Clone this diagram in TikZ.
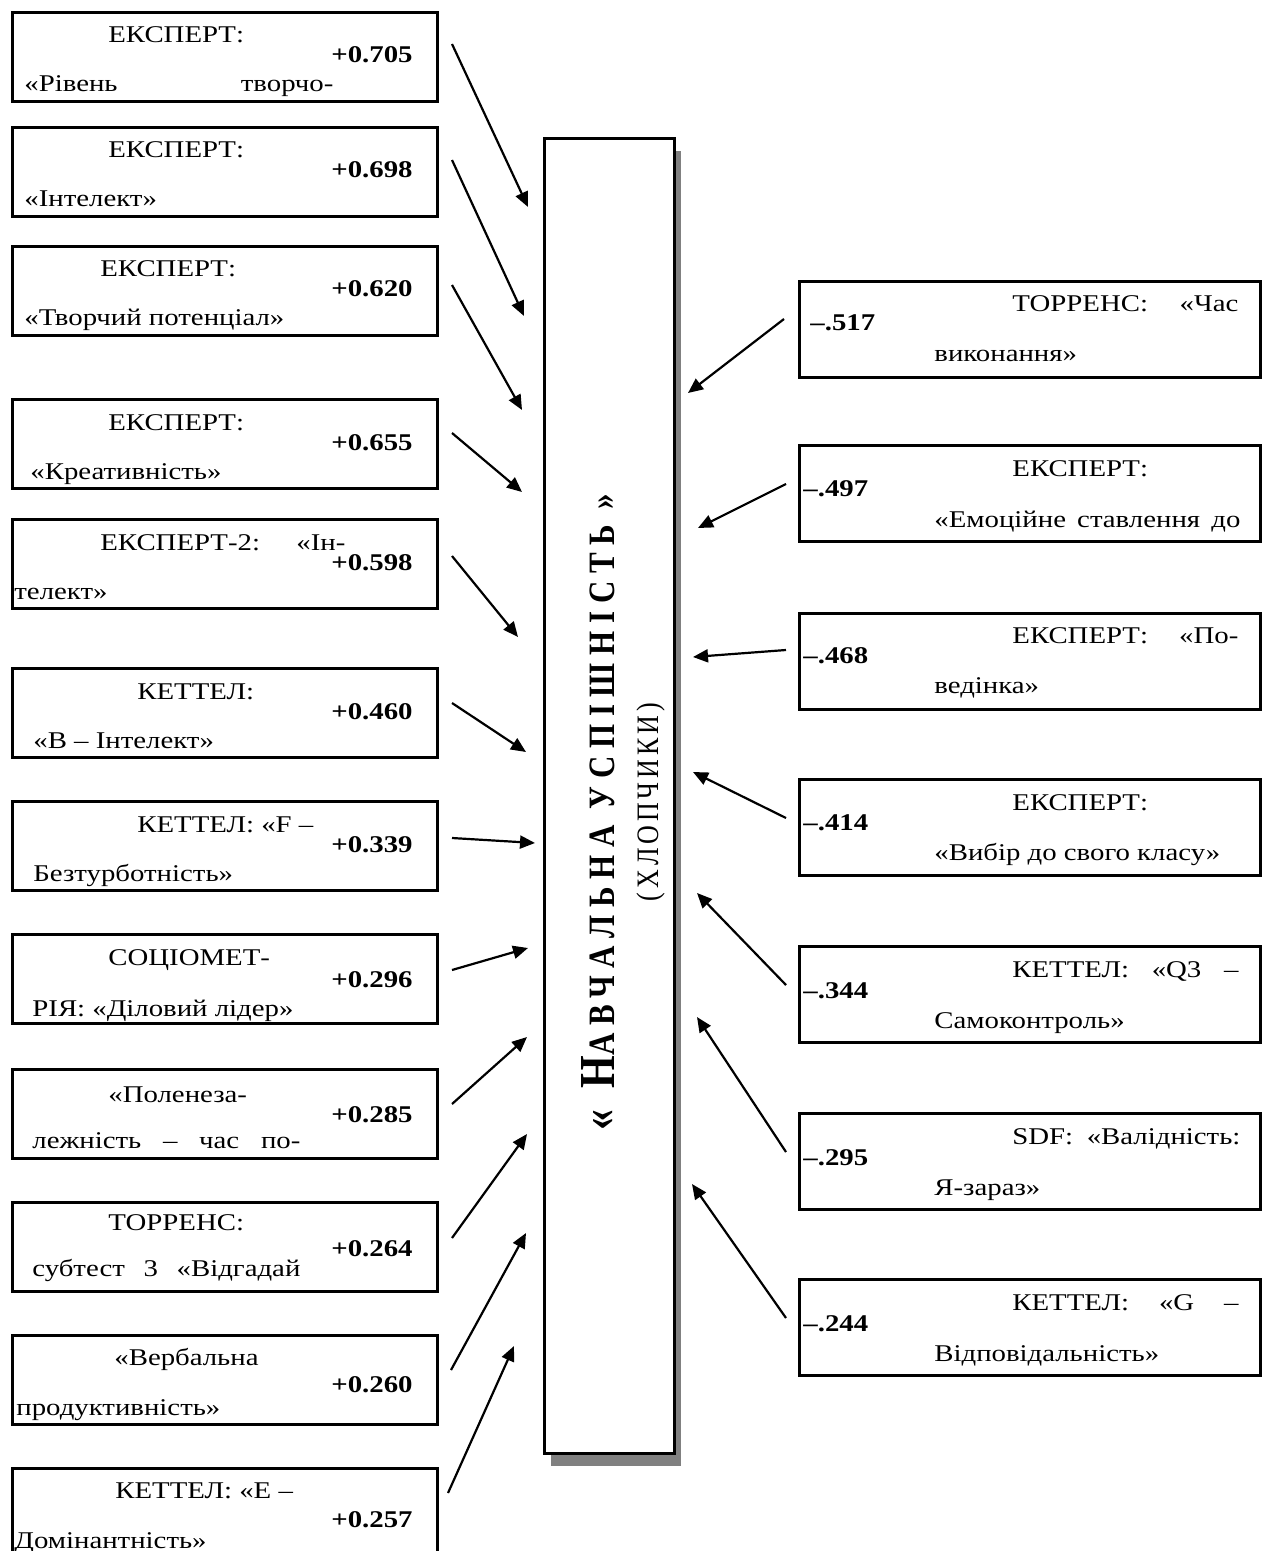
\documentclass[tikz,border=0pt]{standalone}
\usepackage{fontspec}
\setmainfont{Liberation Serif}[FakeStretch=1.2]
\newfontfamily\titlefont{Liberation Serif}[LetterSpace=25]
\newfontfamily\subfont{Liberation Serif}[LetterSpace=15]
\usetikzlibrary{arrows.meta}
\begin{document}
\begin{tikzpicture}[x=0.5pt,y=-0.5pt,
  lbox/.style={draw, line width=1.3pt, fill=white, inner sep=0pt, anchor=north west,
               minimum width=212.5pt, minimum height=44.5pt},
  rbox/.style={draw, line width=1.3pt, fill=white, inner sep=0pt, anchor=north west,
               minimum width=230.5pt, minimum height=48pt},
  txt/.style={anchor=base west, inner sep=0pt, font=\fontsize{12}{14}\selectfont},
  val/.style={anchor=base east, inner sep=0pt, font=\fontsize{12}{14}\selectfont\bfseries},
  rval/.style={anchor=base west, inner sep=0pt, font=\fontsize{12}{14}\selectfont\bfseries},
  link/.style={line width=1.1pt, -{Triangle[length=7.5pt,width=6.5pt]}}
]
\useasboundingbox (0,0) rectangle (1267,1551);

% central block with its drop shadow
\fill[black!50] (551,151) rectangle (681,1466);
\node[draw, line width=1.4pt, fill=white, inner sep=0pt, anchor=north west,
      minimum width=65pt, minimum height=657.5pt] (core) at (543,137) {};
\node[rotate=90, anchor=base, inner sep=0pt] (title) at (614,812)
  {\scalebox{1}[1.2]{\titlefont\bfseries\fontsize{21}{23}\selectfont «
   Н\fontsize{15.5}{17}\selectfont АВЧАЛЬНА УСПІШНІСТЬ »}};
\node[rotate=90, anchor=base, inner sep=0pt] (sub) at (658,802)
  {\scalebox{1}[1.2]{\subfont\fontsize{13}{15}\selectfont (ХЛОПЧИКИ)}};

% positive correlates (left column)
\node[lbox] (L1) at (11,11) {};
\node[txt] (L1a) at (108,43) {ЕКСПЕРТ:};
\node[val] (L1v) at (413,63) {+0.705};
\node[txt] (L1b) at (24,92) {\makebox[154.5pt][s]{«Рівень творчо-}};

\node[lbox] (L2) at (11,126) {};
\node[txt] (L2a) at (108,158) {ЕКСПЕРТ:};
\node[val] (L2v) at (413,178) {+0.698};
\node[txt] (L2b) at (24,207) {«Інтелект»};

\node[lbox] (L3) at (11,245) {};
\node[txt] (L3a) at (100,277) {ЕКСПЕРТ:};
\node[val] (L3v) at (413,297) {+0.620};
\node[txt] (L3b) at (24,326) {«Творчий потенціал»};

\node[lbox] (L4) at (11,398) {};
\node[txt] (L4a) at (108,430) {ЕКСПЕРТ:};
\node[val] (L4v) at (413,450) {+0.655};
\node[txt] (L4b) at (30,479) {«Креативність»};

\node[lbox] (L5) at (11,518) {};
\node[txt] (L5a) at (100,550) {\makebox[122.5pt][s]{ЕКСПЕРТ-2: «Ін-}};
\node[val] (L5v) at (413,570) {+0.598};
\node[txt] (L5b) at (14,599) {телект»};

\node[lbox] (L6) at (11,667) {};
\node[txt] (L6a) at (137,699) {КЕТТЕЛ:};
\node[val] (L6v) at (413,719) {+0.460};
\node[txt] (L6b) at (33,748) {«В – Інтелект»};

\node[lbox] (L7) at (11,800) {};
\node[txt] (L7a) at (137,832) {КЕТТЕЛ: «F –};
\node[val] (L7v) at (413,852) {+0.339};
\node[txt] (L7b) at (33,881) {Безтурботність»};

\node[lbox] (L8) at (11,933) {};
\node[txt] (L8a) at (108,965) {СОЦІОМЕТ-};
\node[val] (L8v) at (413,987) {+0.296};
\node[txt] (L8b) at (32,1016) {РІЯ: «Діловий лідер»};

\node[lbox] (L9) at (11,1068) {};
\node[txt] (L9a) at (108,1102) {«Поленеза-};
\node[val] (L9v) at (413,1122) {+0.285};
\node[txt] (L9b) at (32,1148) {\makebox[134pt][s]{лежність – час по-}};

\node[lbox] (L10) at (11,1201) {};
\node[txt] (L10a) at (108,1230) {ТОРРЕНС:};
\node[val] (L10v) at (413,1256) {+0.264};
\node[txt] (L10b) at (32,1276) {\makebox[134pt][s]{субтест 3 «Відгадай}};

\node[lbox] (L11) at (11,1334) {};
\node[txt] (L11a) at (114,1365) {«Вербальна};
\node[val] (L11v) at (413,1392) {+0.260};
\node[txt] (L11b) at (16,1415) {продуктивність»};

\node[lbox] (L12) at (11,1467) {};
\node[txt] (L12a) at (115,1498) {КЕТТЕЛ: «Е –};
\node[val] (L12v) at (413,1527) {+0.257};
\node[txt] (L12b) at (14,1548) {Домінантність»};

% negative correlates (right column)
\node[rbox] (R1) at (798,280) {};
\node[rval] (R1v) at (810,330) {–.517};
\node[txt] (R1a) at (1012,312) {\makebox[113pt][s]{ТОРРЕНС: «Час}};
\node[txt] (R1b) at (934,362) {виконання»};

\node[rbox] (R2) at (798,444) {};
\node[rval] (R2v) at (803,496) {–.497};
\node[txt] (R2a) at (1012,476) {ЕКСПЕРТ:};
\node[txt] (R2b) at (934,527) {\makebox[153pt][s]{«Емоційне ставлення до}};

\node[rbox] (R3) at (798,612) {};
\node[rval] (R3v) at (803,663) {–.468};
\node[txt] (R3a) at (1012,643) {\makebox[113pt][s]{ЕКСПЕРТ: «По-}};
\node[txt] (R3b) at (934,693) {ведінка»};

\node[rbox] (R4) at (798,778) {};
\node[rval] (R4v) at (803,830) {–.414};
\node[txt] (R4a) at (1012,810) {ЕКСПЕРТ:};
\node[txt] (R4b) at (934,860) {«Вибір до свого класу»};

\node[rbox] (R5) at (798,945) {};
\node[rval] (R5v) at (803,998) {–.344};
\node[txt] (R5a) at (1012,977) {\makebox[113pt][s]{КЕТТЕЛ: «Q3 –}};
\node[txt] (R5b) at (934,1028) {Самоконтроль»};

\node[rbox] (R6) at (798,1112) {};
\node[rval] (R6v) at (803,1165) {–.295};
\node[txt] (R6a) at (1012,1144) {\makebox[114pt][s]{SDF: «Валідність:}};
\node[txt] (R6b) at (934,1195) {Я-зараз»};

\node[rbox] (R7) at (798,1278) {};
\node[rval] (R7v) at (803,1331) {–.244};
\node[txt] (R7a) at (1012,1310) {\makebox[113pt][s]{КЕТТЕЛ: «G –}};
\node[txt] (R7b) at (934,1361) {Відповідальність»};

% arrows from the left column towards the block
\foreach \i/\sx/\sy/\ex/\ey in {
  1/452/44/528/207, 2/452/160/524/316, 3/452/285/522/410,
  4/452/433/522/492, 5/452/556/518/637, 6/452/703/526/752,
  7/452/838/535/843, 8/452/970/528/948, 9/452/1104/527/1037,
  10/452/1238/527/1134, 11/451/1370/526/1233, 12/448/1493/514/1346}{
  \coordinate (ls\i) at (\sx,\sy);
  \coordinate (le\i) at (\ex,\ey);
  \draw[link] (ls\i) -- (le\i);
}
% arrows from the right column towards the block
\foreach \i/\sx/\sy/\ex/\ey in {
  1/784/319/688/393, 2/786/484/698/528, 3/786/650/693/657,
  4/786/818/693/772, 5/786/985/697/893, 6/786/1152/697/1017,
  7/786/1318/692/1184}{
  \coordinate (rs\i) at (\sx,\sy);
  \coordinate (re\i) at (\ex,\ey);
  \draw[link] (rs\i) -- (re\i);
}
\end{tikzpicture}
\end{document}
